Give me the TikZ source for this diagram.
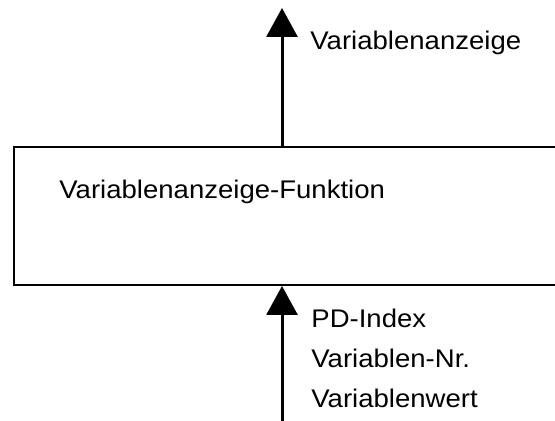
\documentclass[tikz,border=0pt]{standalone}
\usepackage{fontspec}
\setmainfont[FakeStretch=1.08]{Liberation Sans}
\usetikzlibrary{arrows.meta}

\begin{document}
\begin{tikzpicture}[x=0.5pt,y=-0.5pt,
  funcbox/.style={rectangle,draw,line width=1pt,minimum width=300pt,minimum height=68.75pt,anchor=north west,inner sep=0pt},
  txt/.style={inner sep=0pt,anchor=base west,font=\fontsize{12.75pt}{20pt}\selectfont},
  flow/.style={line width=1.5pt,-{Triangle[length=14.5pt,width=15.5pt]}}]
\clip (0,0) rectangle (555,421);
\node [funcbox] (func) at (13,146.5) {};
\node [txt] (functext) at (59,198.3) {Variablenanzeige-Funktion};
\coordinate (outtip) at (282,8);
\coordinate (instart) at (282,430);
\node [txt] (output) at (310,49.3) {Variablenanzeige};
\node [txt] (input1) at (311,327.7) {PD-Index};
\node [txt] (input2) at (311,367.7) {Variablen-Nr.};
\node [txt] (input3) at (311,407.7) {Variablenwert};

\draw [flow] (func.north -| outtip) -- (outtip);
\draw [flow] (instart) -- (instart |- func.south);
\end{tikzpicture}
\end{document}
